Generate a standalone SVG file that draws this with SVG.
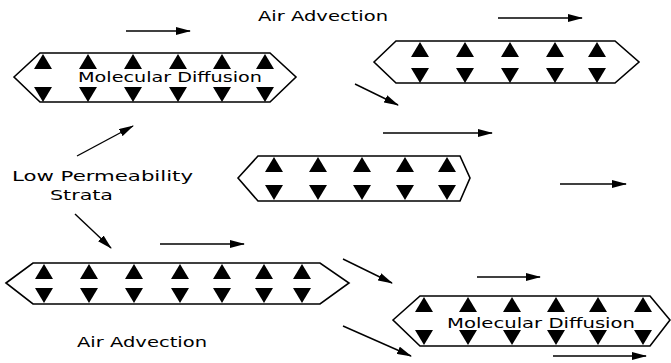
<svg xmlns="http://www.w3.org/2000/svg" width="671" height="363" viewBox="0 0 671 363">
<style>
.box{fill:none;stroke:#000;stroke-width:1.6;stroke-linejoin:miter}
.tri{fill:#000}
.lbl{font-family:"DejaVu Sans","Liberation Sans",sans-serif;font-size:14.5px;fill:#000}
.con{stroke:#000;stroke-width:1.4;fill:none}
</style>
<defs>
<path id="up" class="tri" d="M0,0 L9,15 L-9,15 Z"/>
<path id="dn" class="tri" d="M-9,0 L9,0 L0,15 Z"/>
<marker id="ah" markerWidth="15" markerHeight="8" refX="14" refY="4" orient="auto" markerUnits="userSpaceOnUse">
<path d="M0,0 L15,4 L0,8 Z" fill="#000"/>
</marker>
</defs>

<g id="box1">
<polygon class="box" points="14,77 40,53 270,53 296,77 270,102 40,102"/>
<use href="#up" x="43" y="54"/><use href="#up" x="88" y="54"/><use href="#up" x="133" y="54"/><use href="#up" x="178" y="54"/><use href="#up" x="222" y="54"/><use href="#up" x="265" y="54"/>
<use href="#dn" x="43" y="87"/><use href="#dn" x="88" y="87"/><use href="#dn" x="133" y="87"/><use href="#dn" x="178" y="87"/><use href="#dn" x="222" y="87"/><use href="#dn" x="265" y="87"/>
<text class="lbl" x="78" y="82" textLength="184" lengthAdjust="spacingAndGlyphs">Molecular Diffusion</text>
</g>

<g id="box2">
<polygon class="box" points="374,62 396,41 615,41 639,62 615,83 396,83"/>
<use href="#up" x="420" y="42"/><use href="#up" x="465" y="42"/><use href="#up" x="510" y="42"/><use href="#up" x="555" y="42"/><use href="#up" x="597" y="42"/>
<use href="#dn" x="420" y="68"/><use href="#dn" x="465" y="68"/><use href="#dn" x="510" y="68"/><use href="#dn" x="555" y="68"/><use href="#dn" x="597" y="68"/>
</g>

<g id="box3">
<polygon class="box" points="238,178 258,156 460,156 470,178 460,201 258,201"/>
<use href="#up" x="274" y="157"/><use href="#up" x="318" y="157"/><use href="#up" x="362" y="157"/><use href="#up" x="405" y="157"/><use href="#up" x="447" y="157"/>
<use href="#dn" x="274" y="185"/><use href="#dn" x="318" y="185"/><use href="#dn" x="362" y="185"/><use href="#dn" x="405" y="185"/><use href="#dn" x="447" y="185"/>
</g>

<g id="box4">
<polygon class="box" points="6,283 33,263 320,263 349,283 320,304 33,304"/>
<use href="#up" x="44" y="264"/><use href="#up" x="89" y="264"/><use href="#up" x="134" y="264"/><use href="#up" x="180" y="264"/><use href="#up" x="222" y="264"/><use href="#up" x="264" y="264"/><use href="#up" x="302" y="264"/>
<use href="#dn" x="44" y="288"/><use href="#dn" x="89" y="288"/><use href="#dn" x="134" y="288"/><use href="#dn" x="180" y="288"/><use href="#dn" x="222" y="288"/><use href="#dn" x="264" y="288"/><use href="#dn" x="302" y="288"/>
</g>

<g id="box5">
<polygon class="box" points="393,320 420,296 650,296 670,320 650,346 420,346"/>
<use href="#up" x="424" y="297"/><use href="#up" x="468" y="297"/><use href="#up" x="512" y="297"/><use href="#up" x="556" y="297"/><use href="#up" x="598" y="297"/><use href="#up" x="643" y="297"/>
<use href="#dn" x="424" y="330"/><use href="#dn" x="468" y="330"/><use href="#dn" x="512" y="330"/><use href="#dn" x="556" y="330"/><use href="#dn" x="598" y="330"/><use href="#dn" x="643" y="330"/>
<text class="lbl" x="447" y="328" textLength="188" lengthAdjust="spacingAndGlyphs">Molecular Diffusion</text>
</g>

<g id="labels">
<text class="lbl" x="258" y="21" textLength="130" lengthAdjust="spacingAndGlyphs">Air Advection</text>
<text class="lbl" x="12" y="181" textLength="181" lengthAdjust="spacingAndGlyphs">Low Permeability</text>
<text class="lbl" x="50" y="200" textLength="63" lengthAdjust="spacingAndGlyphs">Strata</text>
<text class="lbl" x="77" y="347" textLength="130" lengthAdjust="spacingAndGlyphs">Air Advection</text>
</g>

<g id="connectors">
<line class="con" x1="126" y1="31" x2="190" y2="31" marker-end="url(#ah)"/>
<line class="con" x1="498" y1="18" x2="582" y2="18" marker-end="url(#ah)"/>
<line class="con" x1="355" y1="84" x2="398" y2="105" marker-end="url(#ah)"/>
<line class="con" x1="383" y1="133" x2="492" y2="133" marker-end="url(#ah)"/>
<line class="con" x1="77" y1="156" x2="133" y2="126" marker-end="url(#ah)"/>
<line class="con" x1="75" y1="214" x2="111" y2="248" marker-end="url(#ah)"/>
<line class="con" x1="160" y1="244" x2="244" y2="244" marker-end="url(#ah)"/>
<line class="con" x1="560" y1="184" x2="626" y2="184" marker-end="url(#ah)"/>
<line class="con" x1="343" y1="259" x2="392" y2="283" marker-end="url(#ah)"/>
<line class="con" x1="477" y1="277" x2="540" y2="277" marker-end="url(#ah)"/>
<line class="con" x1="343" y1="326" x2="411" y2="356" marker-end="url(#ah)"/>
<line class="con" x1="553" y1="356" x2="646" y2="356" marker-end="url(#ah)"/>
</g>
</svg>
